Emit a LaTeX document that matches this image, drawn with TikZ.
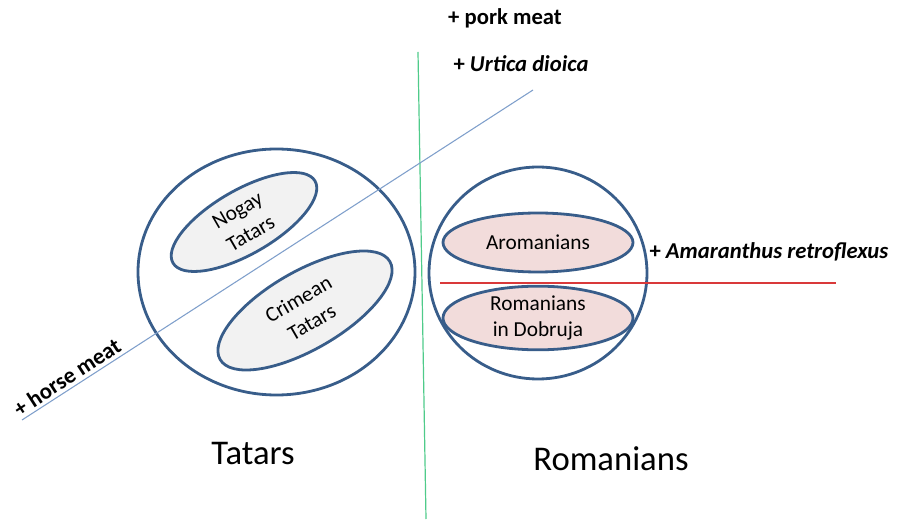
\documentclass[tikz,border=0pt]{standalone}
\usepackage{fontspec}
\setmainfont{Carlito}
\usepackage{tikz}
\usetikzlibrary{shapes.geometric}

\definecolor{ringblue}{HTML}{385D8A}
\definecolor{lineblue}{HTML}{7F9FCB}
\definecolor{linegreen}{HTML}{4FCB8A}
\definecolor{linered}{HTML}{D9393A}
\definecolor{tatarfill}{HTML}{F2F2F2}
\definecolor{romfill}{HTML}{F2DCDB}

\begin{document}
\begin{tikzpicture}[x=0.75pt,y=0.75pt,yscale=-1,xscale=1,
  ring/.style={draw=ringblue,line width=2.1pt,ellipse,inner sep=0pt},
  tatar/.style={ring,fill=tatarfill,align=center,font=\fontsize{16}{20}\selectfont},
  rom/.style={ring,fill=romfill,align=center,font=\fontsize{16}{20}\selectfont},
  addon/.style={inner sep=0.75pt,text=black,font=\fontsize{17}{20}\selectfont\bfseries},
  group/.style={inner sep=0.75pt,font=\fontsize{26}{30}\selectfont}]
\path (0,0) rectangle (900,519); %set diagram left start at 0, and has height of 519

%Shape: Ellipse [Tatars]
\node (tatars) [ring,minimum width=207.75pt,minimum height=184.5pt] at (276.5,272) {};
%Shape: Ellipse [Nogay]
\node (nogay) [tatar,rotate=30,minimum width=123pt,minimum height=48pt] at (244,222) {Nogay\\Tatars};
%Shape: Ellipse [Crimean]
\node (crimean) [tatar,rotate=30,minimum width=147pt,minimum height=58.5pt] at (305,310.5) {Crimean\\Tatars};

%Shape: Ellipse [Romanians]
\node (romanians) [ring,minimum width=163.5pt,minimum height=159pt] at (538,273) {};
%Shape: Ellipse [Aromanians]
\node (arom) [rom,minimum width=142.5pt,minimum height=44.25pt] at (538,242.5) {Aromanians};
%Shape: Ellipse [Dobruja]
\node (dobruja) [rom,minimum width=142.5pt,minimum height=43.5pt] at (538,318) {Romanians\\in Dobruja};

%Straight Lines
\coordinate (gtop) at (418,52);
\coordinate (gbot) at (426,519);
\coordinate (bstart) at (22,420);
\coordinate (bend) at (533,90);
\coordinate (rstart) at (440,283);
\coordinate (rend) at (836,283);
\draw [linegreen,line width=0.9pt] (gtop) -- (gbot);
\draw [linered,line width=0.8pt] (rstart) -- (rend);
\draw [lineblue,line width=0.8pt] (bstart) -- (bend);

% Text Node
\node (horse) [addon,rotate=33] at (67,377) {+ horse meat};
% Text Node
\node (pork) [addon] at (505,18) {+ pork meat};
% Text Node
\node (urtica) [addon] at (521,64) {+ \textit{Urtica dioica}};
% Text Node
\node (amaranth) [addon] at (769,252) {+ \textit{Amaranthus retroflexus}};
% Text Node
\node (tlabel) [group] at (253,454) {Tatars};
% Text Node
\node (rlabel) [group] at (611,459) {Romanians};

\end{tikzpicture}
\end{document}
